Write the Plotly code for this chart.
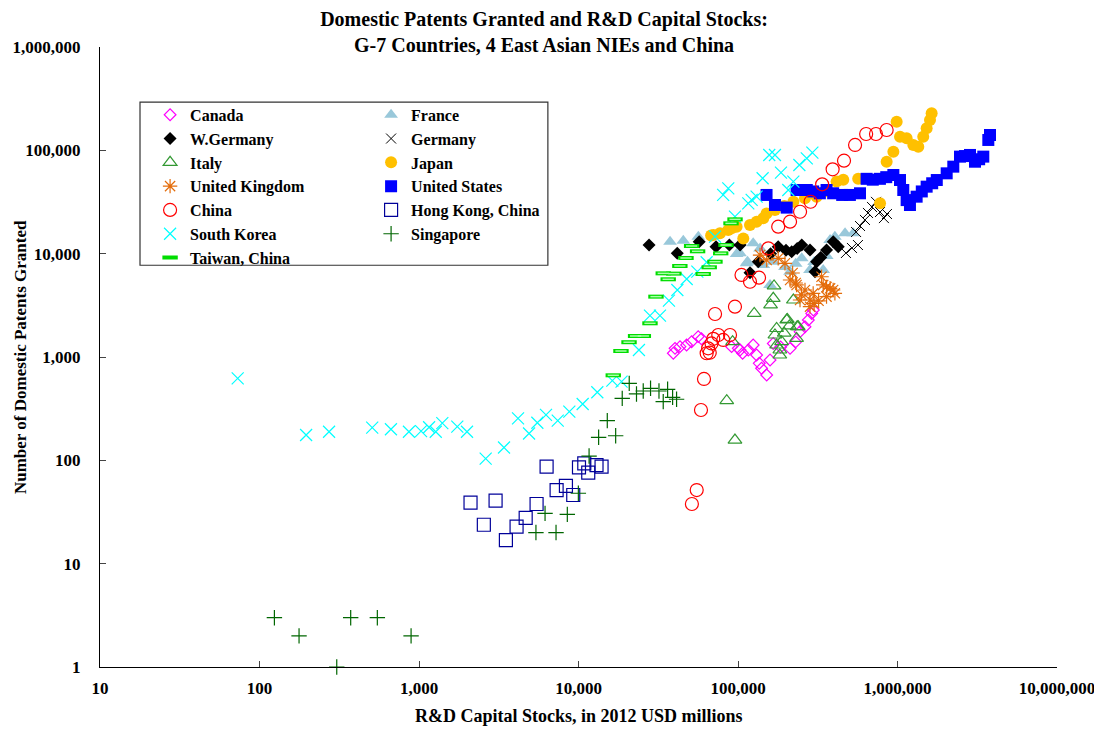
import plotly.graph_objects as go

# Datos (x: stock de capital I+D en millones USD 2012, y: patentes)
canada_x = [39300, 40300, 43300, 47600, 51200, 56300, 59000, 91200, 100400, 103000, 106900, 116100, 124500,
            130800, 135900, 140500, 151300, 158800, 166400, 185000, 212000, 230000, 245000, 263000, 276000,
            290000, 296600]
canada_y = [1087, 1213, 1259, 1306, 1407, 1574, 1500, 1259, 1213, 1169, 1087, 1169, 1306,
            1045, 869, 778, 670, 935, 1352, 1250, 1213, 1400, 1760, 1963, 2280,
            2640, 2850]

france_x = [37500, 45400, 56400, 98000, 103000, 113200, 114800, 124500, 137500, 144000, 158800, 166500,
            197000, 212000, 230000, 251000, 282800, 300000, 342000, 360000, 378000, 405000, 469000, 528000]
france_y = [13060, 13370, 14600, 9930, 10070, 8070, 8360, 12620, 11250, 7770, 4980, 8360,
            7450, 6700, 8000, 9020, 6950, 8300, 6950, 9500, 13550, 14600, 15740, 15740]

wgermany_x = [27700, 41600, 57100, 72800, 88300, 103000, 118900, 134000, 160000, 178700, 200000, 217000,
              235000, 251000, 282800, 304000, 311000, 330000, 359000, 395500, 425000]
wgermany_y = [12130, 10070, 13060, 11670, 12130, 12130, 6550, 8360, 10000, 11670, 10800, 10450,
              11200, 12130, 10840, 6700, 8360, 9200, 10840, 13060, 11670]

germany_x = [475000, 518000, 550000, 565000, 582000, 625000, 653000, 692000, 733000, 777000, 822000, 859000]
germany_y = [10150, 11350, 16200, 12130, 18530, 21200, 24770, 28300, 31700, 25300, 22100, 24200]

italy_x = [85000, 95700, 92500, 126400, 160000, 166400, 168300, 170500, 174600, 174600, 183000, 183000,
           187500, 195000, 202000, 203800, 210000, 222400, 233000, 235000, 238600]
italy_y = [378, 157, 1407, 2640, 3190, 3700, 4870, 1633, 1888, 1306, 1045, 1169,
           1407, 1700, 2280, 2310, 2000, 3560, 1513, 1963, 1963]

japan_x = [67800, 70100, 77100, 86900, 91200, 98000, 107900, 118900, 130800, 144000, 151000, 170500,
           195000, 222400, 263000, 311000, 350000, 415000, 457000, 567000, 777000, 855000, 942000,
           988000, 1037000, 1141000, 1256000, 1350000, 1450000, 1523000, 1599000, 1637000]
japan_y = [15000, 15200, 15740, 16950, 17570, 18240, 14050, 18950, 20400, 22000, 24500, 26500,
           29000, 31800, 34300, 35600, 40000, 49800, 52000, 53200, 30700, 77600, 97100,
           189000, 135600, 130700, 112700, 108400, 135600, 163200, 196600, 228000]

uk_x = [137500, 151300, 178700, 197000, 212000, 220000, 230000, 233000, 244800, 250000, 263000, 282800,
        282800, 296000, 300000, 320000, 334000, 342000, 359000, 359000, 378000, 395000, 405000]
uk_y = [9700, 8690, 9020, 8070, 5560, 6500, 5200, 4980, 3560, 4000, 4450, 3560,
        3070, 4130, 3300, 3500, 5980, 4980, 4760, 3838, 4620, 4450, 4130]

us_x = [151000, 170500, 202000, 233000, 270000, 296000, 326000, 359000, 395000, 450000, 503000, 582000,
        640000, 700000, 776000, 850000, 942000, 1037000, 1087000, 1141000, 1197000, 1318000, 1420000,
        1523000, 1650000, 1763000, 2034000, 2238000, 2466000, 2650000, 2849000, 3062000, 3250000,
        3451000, 3710000, 3802000]
us_y = [37000, 29600, 27900, 41300, 41300, 40000, 38400, 41300, 38400, 37000, 37000, 38400,
        53000, 52000, 53000, 55000, 57700, 51600, 41300, 33000, 29560, 35600, 40000,
        44500, 48000, 51600, 59900, 69500, 86900, 88000, 90200, 77600, 82000,
        86900, 126000, 140700]

china_x = [51400, 55100, 58600, 61200, 63600, 65000, 66500, 68200, 70000, 71800, 75200, 80800, 89100,
           95700, 105200, 118900, 135500, 154900, 178700, 212000, 245000, 285000, 337000, 392000,
           462000, 542000, 636000, 733000, 855000]
china_y = [37.8, 51.6, 307, 613, 1087, 1213, 1100, 1352, 1500, 2608, 1633, 1462, 1633,
           3070, 6220, 5350, 5860, 11250, 18240, 20400, 25460, 31800, 46900, 65500,
           79400, 112700, 143900, 143900, 157400]

hk_x = [2104, 2550, 3021, 3506, 4090, 4665, 5460, 6310, 7290, 8340, 9270, 10070, 10870, 11510, 12970, 13950]
hk_y = [38.9, 23.8, 40.8, 16.9, 22.8, 27.8, 37.8, 86.9, 51.6, 56.5, 46.2, 85.5, 93.5, 76, 90, 86.9]

korea_x = [73, 196, 273, 509, 667, 865, 1030, 1157, 1274, 1400, 1738, 2000, 2618, 3412, 4177, 4898,
           5520, 6255, 7410, 8760, 10620, 13120, 16300, 18620, 23930, 28070, 32420, 36900, 41660,
           47700, 55600, 63600, 71800, 80700, 86900, 95700, 116000, 121800, 130800, 142700, 157000,
           170500, 186000, 206700, 222300, 242500, 270000, 292600]
korea_y = [622, 176, 189, 207, 200, 189, 192, 209, 189, 229, 212, 189, 104, 133, 255, 182,
           231, 275, 242, 296, 351, 456, 590, 577, 1169, 2512, 2512, 3508, 4453,
           5690, 6700, 8260, 14600, 37000, 42900, 22800, 30700, 33100, 35600, 53700, 90200,
           90200, 60800, 41300, 49800, 72100, 83600, 94900]

singapore_x = [124, 177, 305, 373, 548, 892, 5410, 6170, 7230, 8510, 9980, 11650, 13370, 15150, 17100,
               18800, 20800, 23100, 25460, 28300, 31960, 33980, 36200, 38900, 41200]
singapore_y = [3, 2, 1, 3, 3, 2, 20, 30.7, 20, 30, 48, 110, 167, 242, 173,
               398, 556, 439, 469, 498, 469, 370, 487, 407, 390]

taiwan_x = [16520, 18460, 20740, 22800, 25500, 28070, 30600, 33990, 36500, 39600, 43200, 47200, 51200,
            55800, 60500, 66000, 71700, 77900, 84100, 90400, 95800]
taiwan_y = [665, 1143, 1390, 1597, 1597, 2119, 3838, 6450, 5650, 6410, 7600, 9080, 11860,
            10540, 6360, 7380, 8360, 10070, 12130, 19650, 21480]

x_ticks = [10, 100, 1000, 10000, 100000, 1000000, 10000000]
x_ticktext = ["10", "100", "1,000", "10,000", "100,000", "1,000,000", "10,000,000"]
y_ticks = [1, 10, 100, 1000, 10000, 100000, 1000000]
y_ticktext = ["1", "10", "100", "1,000", "10,000", "100,000", "1,000,000"]

FONT = "Liberation Serif, Times New Roman, serif"

series = [
    ("Canada", canada_x, canada_y, "diamond-open", "#FF00FF", 9, 1.2),
    ("France", france_x, france_y, "triangle-up", "#99C8DA", 12, 0),
    ("W.Germany", wgermany_x, wgermany_y, "diamond", "#000000", 10, 0),
    ("Germany", germany_x, germany_y, "x-thin-open", "#000000", 10, 1),
    ("Italy", italy_x, italy_y, "triangle-up-open", "#339933", 12, 1.2),
    ("Japan", japan_x, japan_y, "circle", "#FFC000", 12, 0),
    ("United Kingdom", uk_x, uk_y, "asterisk-open", "#E46C0A", 12, 1.2),
    ("United States", us_x, us_y, "square", "#0000FF", 12, 0),
    ("China", china_x, china_y, "circle-open", "#FF0000", 13, 1.2),
    ("Hong Kong, China", hk_x, hk_y, "square-open", "#000099", 13, 1.2),
    ("South Korea", korea_x, korea_y, "x-thin-open", "#00FFFF", 12, 1.2),
    ("Singapore", singapore_x, singapore_y, "cross-thin-open", "#006600", 11, 1.2),
]

fig = go.Figure()
for nombre, xs, ys, simbolo, color, tam, ancho in series:
    if simbolo.endswith("open"):
        marker = dict(symbol=simbolo, size=tam, color=color, line=dict(color=color, width=ancho))
    else:
        marker = dict(symbol=simbolo, size=tam, color=color, line=dict(width=0))
    fig.add_trace(go.Scatter(x=xs, y=ys, mode="markers", name=nombre, marker=marker, cliponaxis=False))

# Taiwan: rectangulo verde con relleno claro (dos capas)
fig.add_trace(go.Scatter(
    x=taiwan_x, y=taiwan_y, mode="markers", name="Taiwan, China", legendgroup="tw",
    marker=dict(symbol="line-ew", size=11, line=dict(color="#00DD00", width=4)),
))
fig.add_trace(go.Scatter(
    x=taiwan_x, y=taiwan_y, mode="markers", name="Taiwan, China", legendgroup="tw", showlegend=False,
    marker=dict(symbol="line-ew", size=8, line=dict(color="#AAFFAA", width=1.5)),
))

# Marco de la leyenda
fig.add_shape(type="rect", xref="paper", yref="paper", x0=0.0418, x1=0.468, y0=0.648, y1=0.911,
              line=dict(color="#333333", width=1.2), fillcolor="rgba(0,0,0,0)", layer="below")

# Titulos de ejes como anotaciones
fig.add_annotation(text="Number of Domestic Patents Granted", xref="paper", yref="paper",
                   x=-0.0835, y=0.5, textangle=-90, showarrow=False, xanchor="center", yanchor="middle",
                   font=dict(family=FONT, size=17, weight="bold"))
fig.add_annotation(text="R&D Capital Stocks, in 2012 USD millions", xref="paper", yref="paper",
                   x=0.5, y=-0.079, showarrow=False, xanchor="center", yanchor="middle",
                   font=dict(family=FONT, size=18, weight="bold"))

fig.update_layout(
    width=1094, height=721,
    margin=dict(l=92, r=45, t=39, b=62),
    paper_bgcolor="white", plot_bgcolor="white",
    font=dict(family=FONT, size=17, color="#000000", weight="bold"),
    title=dict(text="Domestic Patents Granted and R&D Capital Stocks:<br>G-7 Countries, 4 East Asian NIEs and China",
               x=0.49, xanchor="center", y=0.975, yanchor="top",
               font=dict(family=FONT, size=20, weight="bold")),
    xaxis=dict(type="log", range=[1, 7], tickvals=x_ticks, ticktext=x_ticktext, automargin=False,
               showline=True, linecolor="#000000", linewidth=1, ticks="inside", ticklen=6,
               tickcolor="#444444", showgrid=False, zeroline=False, ticklabelstandoff=6,
               tickfont=dict(family=FONT, size=17, weight="bold")),
    yaxis=dict(type="log", range=[0, 6], tickvals=y_ticks, ticktext=y_ticktext, automargin=False,
               showline=True, linecolor="#000000", linewidth=1, ticks="inside", ticklen=6,
               tickcolor="#444444", showgrid=False, zeroline=False, ticklabelstandoff=15,
               tickfont=dict(family=FONT, size=17, weight="bold")),
    showlegend=True,
    legend=dict(orientation="h", x=-0.002, xanchor="left", y=0.918, yanchor="top",
                entrywidth=124, indentation=52, bgcolor="rgba(0,0,0,0)", borderwidth=0,
                font=dict(family=FONT, size=16, weight="bold"), itemwidth=30,
                tracegroupgap=0),
)

fig.write_html("out.html")
